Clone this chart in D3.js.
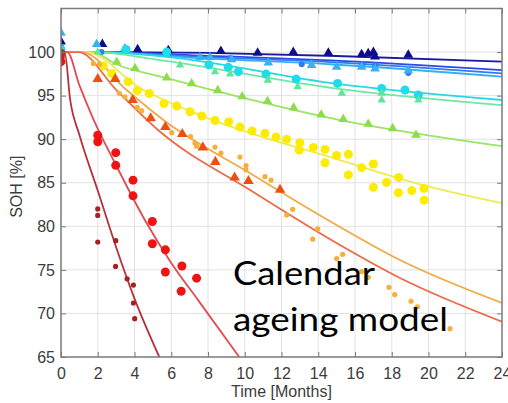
<!DOCTYPE html>
<html>
<head>
<meta charset="utf-8">
<script src="https://d3js.org/d3.v7.min.js"></script>
<style>
  body { margin: 0; background: #fff; }
  .axis text { font-family: "Liberation Sans", Arial, sans-serif; font-size: 16px; fill: #3c3c3c; }
</style>
</head>
<body>
<div id="chart"></div>
<script>
// axis ticks
var xTicks = [0, 2, 4, 6, 8, 10, 12, 14, 16, 18, 20, 22, 24],
    yTicks = [65, 70, 75, 80, 85, 90, 95, 100];

// model lines as [month, SOH]
var lineDarkRed   = [[0,100],[0.2,100],[0.5,94.5],[1,90.5],[2,84.1],[3,77.6],[4,71.7],[5.35,65]];
var lineRed       = [[0,100],[0.34,100],[1,96.2],[1.76,92.3],[3,87],[4.57,80.7],[6,75.8],[7.47,71.5],[9.7,65]];
var lineOrangeRed = [[0,100],[0.95,100],[3.03,95.6],[5.28,91.05],[10.29,84.16],[15.18,77.85],[18.45,74.06],[24,69.05]];
var lineOrange    = [[0,100],[1.12,100],[3.57,95.64],[5.57,92.2],[10.29,86.1],[14.55,80.7],[18.45,76.13],[24,71.2]];
var lineYellow    = [[0,100],[1.36,100],[4.3,95.87],[7.56,92.77],[15.18,87.6],[19.7,84.74],[24,82.67]];
var lineYellowGrn = [[0,100],[1.7,100],[3,98.6],[5.39,97.2],[7.56,96.0],[15.18,92.2],[24,89.2]];
var lineMint      = [[0,100],[1.8,100],[5.39,99.08],[15,95.8],[24,93.9]];
var lineCyan      = [[0,100],[2,100],[5.39,99.54],[15,96.35],[24,94.5]];
var lineLightBlue = [[0,100],[2,100],[7.56,99.3],[14.64,98.6],[24,97.17]];
var lineBlue      = [[0,100],[2,100],[7.56,99.45],[14.64,98.85],[24,97.55]];
var lineRoyal     = [[0,100],[2,100],[7.56,99.6],[14.64,99.05],[24,97.93]];
var lineDarkBlue  = [[0,100],[3,100],[8,99.9],[15,99.55],[24,98.9]];

// measured points
var ptsDarkRed = [[0,99.3],[2,82.0],[2,81.25],[2,78.2],[2.98,78.35],[2.97,75.4],[3.6,73.97],[3.94,73.25],[3.94,71.2],[4.01,69.4]];
var ptsRed = [[0,99.85],[0,98.9],[2,90.45],[2,89.7],[2.98,88.45],[2.98,87.0],[3.92,85.3],[3.92,83.5],[4.97,80.55],[4.97,78.0],
  [5.68,77.3],[5.68,74.75],[6.58,75.45],[6.54,72.55],[7.38,74.05]];
var ptsOrangeRed = [[0,99.6],[2.0,96.9],[2.95,96.9],[3.9,94.5],[4.88,92.4],[5.68,91.4],[6.6,90.6],[7.72,89.06],[8.4,87.4],
  [9.45,85.6],[10.2,85.2],[11.92,84.2]];
var ptsOrange = [[1.76,98.7],[2.09,98.6],[3.17,95.26],[3.48,94.87],[4.15,93.65],[4.39,93.27],[6.02,90.75],[7.05,90.3],
  [7.29,89.55],[7.38,89.2],[8.38,89.1],[8.7,88.4],[9.74,87.95],[10.07,86.97],[10.06,86.48],[11.1,85.7],[11.43,85.3],
  [12.61,81.95],[12.28,81.3],[13.97,79.7],[13.7,78.52],[15.0,76.3],[15.33,76.78],[16.36,74.8],[16.72,74.15],[17.85,73.0],
  [18.16,72.17],[19.05,71.4],[19.4,70.77],[21.17,68.25]];
var ptsYellow = [[2.3,98.4],[2.76,97.55],[3.66,96.6],[4.15,95.6],[4.8,95.25],[5.6,94.1],[6.3,93.8],[7.02,93.15],[7.66,92.66],
  [8.38,92.15],[9.13,92.0],[9.74,91.4],[10.4,90.95],[11.1,90.67],[11.7,90.25],[12.28,89.98],[13.0,89.6],[12.97,88.75],
  [13.73,89.06],[14.37,88.83],[14.37,87.3],[15.0,88.13],[15.64,88.26],[15.64,85.9],[16.36,86.73],[17.0,87.15],[17.0,84.47],
  [17.72,85.04],[18.38,85.6],[18.36,83.85],[19.09,84.1],[19.76,84.35],[19.76,83.0]];
var ptsYellowGrn = [[0,100],[3.03,98.85],[4.03,98.15],[5.75,97.05],[7.11,96.4],[8.53,95.6],[9.86,94.9],[11.24,94.35],
  [12.66,93.6],[14.16,92.8],[15.36,92.3],[16.72,91.74],[18.05,91.24],[19.32,90.47]];
var ptsMint = [[0,100.1],[2,100],[6.48,98.5],[8.38,97.74],[9.2,97.47],[11.25,96.75],[12.88,96.0],[15.28,95.26],[17.45,95.26],
  [17.45,94.5],[19.45,94.5]];
var ptsCyan = [[0,100.3],[3.54,100.3],[5.75,100.0],[8.05,98.55],[9.1,98.25],[9.65,97.75],[11.16,97.47],[12.8,96.9],
  [15.05,96.4],[17.45,95.83],[18.72,95.64],[19.45,95.07]];
var ptsLightBlue = [[0,102.2],[1.94,100.9],[3.48,100.4],[7.56,99.4],[8.1,99.4],[9.29,99.15],[11.28,98.77],[13.64,98.5],
  [15.0,98.3],[16.36,98.3],[17.09,98.1],[18.9,97.9]];
var ptsBlue = [[0,100.6],[2.2,100.0],[9.2,99.3],[13.1,98.6],[16.4,98.6],[17.1,98.5],[18.9,97.6]];
var ptsDarkBlue = [[0,101.2],[2.25,100.9],[4.17,100.3],[5.84,100.2],[8.7,100.1],[10.7,99.9],[12.64,100.0],[14.55,99.9],
  [16.36,99.73],[16.72,99.85],[17.0,100.0],[17.09,99.46],[18.9,99.66]];

var series = [
  {line: lineDarkBlue,  pts: ptsDarkBlue,  stroke: "#1a1aa0", fill: "#0c0c8c", mark: "tri", size: 42},
  {line: lineRoyal,     pts: [],           stroke: "#2a48e8", fill: "#2a48e8", mark: "dot", r: 3},
  {line: lineBlue,      pts: ptsBlue,      stroke: "#2f7cf2", fill: "#2f7cf2", mark: "dot", r: 3},
  {line: lineLightBlue, pts: ptsLightBlue, stroke: "#38aef2", fill: "#38b0f4", mark: "tri", size: 40},
  {line: lineCyan,      pts: ptsCyan,      stroke: "#28d8e4", fill: "#20dce8", mark: "dot", r: 4.5},
  {line: lineMint,      pts: ptsMint,      stroke: "#6ee8a4", fill: "#5ee69a", mark: "tri", size: 30},
  {line: lineYellowGrn, pts: ptsYellowGrn, stroke: "#9ae466", fill: "#8cde48", mark: "tri", size: 40},
  {line: lineYellow,    pts: ptsYellow,    stroke: "#f0ea50", fill: "#fcec00", mark: "dot", r: 4.5},
  {line: lineOrange,    pts: ptsOrange,    stroke: "#f2aa48", fill: "#f5b03a", mark: "dot", r: 2.6},
  {line: lineOrangeRed, pts: ptsOrangeRed, stroke: "#ee6a48", fill: "#f04e10", mark: "tri", size: 48},
  {line: lineRed,       pts: ptsRed,       stroke: "#e44a50", fill: "#ee1414", mark: "dot", r: 4.5},
  {line: lineDarkRed,   pts: ptsDarkRed,   stroke: "#b8303a", fill: "#a82020", mark: "dot", r: 2.6}
];

var margin = {top: 8.5, right: 6, bottom: 46, left: 61},
    width = 508 - margin.left - margin.right,
    height = 403 - margin.top - margin.bottom;

var svg = d3.select("#chart")
  .append("svg")
    .attr("width", width + margin.left + margin.right)
    .attr("height", height + margin.top + margin.bottom)
  .append("g")
    .attr("transform", "translate(" + margin.left + "," + margin.top + ")");

var x = d3.scaleLinear().domain([0, 24]).range([0, width]);
var y = d3.scaleLinear().domain([65, 105]).range([height, 0]);

// grid
svg.append("g")
  .selectAll("line.gx")
  .data(xTicks.slice(1, -1))
  .enter().append("line")
    .attr("x1", d => x(d)).attr("x2", d => x(d))
    .attr("y1", 0).attr("y2", height)
    .style("stroke", "#e2e2e2").style("stroke-width", 1);
svg.append("g")
  .selectAll("line.gy")
  .data(yTicks.slice(1))
  .enter().append("line")
    .attr("x1", 0).attr("x2", width)
    .attr("y1", d => y(d)).attr("y2", d => y(d))
    .style("stroke", "#e2e2e2").style("stroke-width", 1);

svg.append("clipPath").attr("id", "clip")
  .append("rect").attr("width", width).attr("height", height);

var plot = svg.append("g").attr("clip-path", "url(#clip)");

var line = d3.line()
  .x(d => x(d[0]))
  .y(d => y(d[1]))
  .curve(d3.curveMonotoneX);

// lines first, marks on top
series.forEach(function (s) {
  plot.append("path")
    .datum(s.line)
    .attr("d", line)
    .style("fill", "none")
    .style("stroke", s.stroke)
    .style("stroke-width", 1.8);
});

var tri = d3.symbol().type(d3.symbolTriangle);
series.forEach(function (s) {
  if (s.mark == "tri") {
    plot.append("g").selectAll("path")
      .data(s.pts)
      .enter().append("path")
        .attr("d", tri.size(s.size)())
        .attr("transform", d => "translate(" + x(d[0]) + "," + y(d[1]) + ")")
        .style("fill", s.fill);
  } else {
    plot.append("g").selectAll("circle")
      .data(s.pts)
      .enter().append("circle")
        .attr("cx", d => x(d[0]))
        .attr("cy", d => y(d[1]))
        .attr("r", s.r)
        .style("fill", s.fill);
  }
});

// axes, MATLAB style ticks pointing inward
var gx = svg.append("g")
  .attr("class", "axis")
  .attr("transform", "translate(0," + height + ")")
  .call(d3.axisBottom(x).tickValues(xTicks).tickSizeInner(-5).tickSizeOuter(0).tickPadding(11));
var gy = svg.append("g")
  .attr("class", "axis")
  .call(d3.axisLeft(y).tickValues(yTicks).tickSizeInner(-5).tickSizeOuter(0).tickPadding(6));
svg.append("g")
  .call(d3.axisTop(x).tickValues(xTicks).tickSizeInner(-5).tickSizeOuter(0).tickFormat(""));
svg.append("g")
  .attr("transform", "translate(" + width + ",0)")
  .call(d3.axisRight(y).tickValues(yTicks).tickSizeInner(-5).tickSizeOuter(0).tickFormat(""));

svg.selectAll(".domain").remove();
svg.selectAll(".tick line").style("stroke", "#7a7a7a");
svg.append("rect")
  .attr("width", width).attr("height", height)
  .style("fill", "none").style("stroke", "#7a7a7a").style("stroke-width", 1.5);

// axis titles
svg.append("text")
  .attr("class", "axis")
  .attr("x", width / 2).attr("y", height + 40)
  .attr("text-anchor", "middle")
  .style("font-family", "Liberation Sans, Arial, sans-serif")
  .style("font-size", "16px").style("fill", "#3c3c3c")
  .text("Time [Months]");
svg.append("text")
  .attr("transform", "translate(" + (22 - margin.left) + "," + (height / 2 + 4) + ") rotate(-90)")
  .attr("text-anchor", "middle")
  .style("font-family", "Liberation Sans, Arial, sans-serif")
  .style("font-size", "16px").style("fill", "#3c3c3c")
  .text("SOH [%]");

// annotation
var note = svg.append("g")
  .style("font-family", "Lato, 'Open Sans', sans-serif")
  .style("font-size", "33px").style("fill", "#000");
note.append("text").attr("x", 233 - margin.left).attr("y", 285 - margin.top)
  .attr("textLength", 142).attr("lengthAdjust", "spacingAndGlyphs").text("Calendar");
note.append("text").attr("x", 233 - margin.left).attr("y", 331 - margin.top)
  .attr("textLength", 215).attr("lengthAdjust", "spacingAndGlyphs").text("ageing model");
</script>
</body>
</html>
